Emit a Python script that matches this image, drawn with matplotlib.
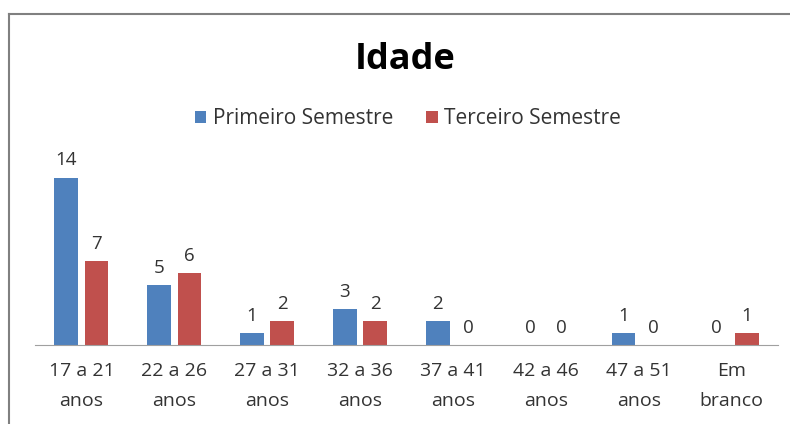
import numpy as np
import matplotlib
matplotlib.use("Agg")
import matplotlib.pyplot as plt
from matplotlib.lines import Line2D

plt.rcParams['font.family'] = ['Open Sans', 'DejaVu Sans']

# data
categories = ["17 a 21\nanos", "22 a 26\nanos", "27 a 31\nanos", "32 a 36\nanos",
              "37 a 41\nanos", "42 a 46\nanos", "47 a 51\nanos", "Em\nbranco"]
primeiro = [14, 5, 1, 3, 2, 0, 1, 0]
terceiro = [7, 6, 2, 2, 0, 0, 0, 1]
series_names = ["Primeiro Semestre", "Terceiro Semestre"]
colors = ['#4F81BD', '#C0504D']

fig = plt.figure(figsize=(7.9, 4.24), dpi=100)
ax = fig.add_axes([35/790, 79/424, (778-35)/790, 0.637 - 79/424])

x = np.arange(len(categories))
w = 0.255
off = 0.163
b1 = ax.bar(x - off, primeiro, w, color=colors[0], label=series_names[0])
b2 = ax.bar(x + off, terceiro, w, color=colors[1], label=series_names[1])

for bars in (b1, b2):
    for rect in bars:
        h = rect.get_height()
        ax.annotate(str(int(h)), (rect.get_x() + rect.get_width()/2, h),
                    xytext=(0, 6), textcoords='offset points',
                    ha='center', va='bottom', fontsize=13.5, color='#333333')

ax.set_xlim(-0.5, len(categories) - 0.5)
ax.set_ylim(0, 16)
ax.set_yticks([])
for s in ['top', 'right', 'left']:
    ax.spines[s].set_visible(False)
ax.spines['bottom'].set_color('#a0a0a0')
ax.set_xticks(x)
ax.set_xticklabels(categories, fontsize=14, color='#333333', linespacing=1.9)
ax.tick_params(axis='x', length=0, pad=12)

fig.text(405/790, 1 - 60/424, "Idade", ha='center', va='center',
         fontsize=26, fontweight='bold', color='black')

fig.legend(handles=[b1, b2], labels=series_names, loc='center',
           bbox_to_anchor=(408/790, 1 - 119/424), ncol=2, frameon=False,
           fontsize=15, handlelength=0.55, handleheight=0.55,
           handletextpad=0.3, columnspacing=1.6, labelcolor='#333333')

# chart frame (left and top edges visible)
fig.add_artist(Line2D([9/790, 9/790], [0, 1 - 14/424], color='#808080', lw=1.5))
fig.add_artist(Line2D([9/790, 1], [1 - 14/424, 1 - 14/424], color='#808080', lw=1.5))

fig.savefig("out.png", dpi=100)
